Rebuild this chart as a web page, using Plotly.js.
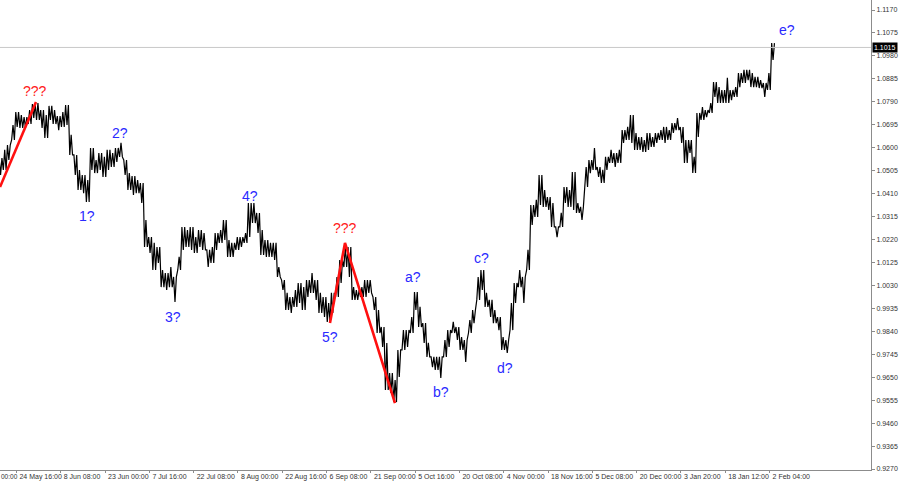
<!DOCTYPE html>
<html>
<head>
<meta charset="utf-8">
<script src="https://cdn.plot.ly/plotly-3.0.1.min.js"></script>
<style>html,body{margin:0;padding:0;background:#fff;}#chart{width:900px;height:485px;}</style>
</head>
<body>
<div id="chart"></div>
<script>
// Daily high / low (one value pair per trading day, 19 May 2022 .. 2 Feb 2023)
const dayHigh = [1.0557,1.0591,1.0611,1.0694,1.0748,1.0735,1.0727,1.0756,1.0781,1.0785,
1.0756,1.0735,1.0773,1.0756,1.0731,1.0748,1.0777,1.0653,1.0570,1.0508,
1.0487,1.0466,1.0599,1.0549,1.0578,1.0562,1.0591,1.0578,1.0599,1.0620,
1.0549,1.0495,1.0483,1.0466,1.0454,1.0301,1.0230,1.0206,1.0189,1.0094,
1.0081,1.0106,1.0065,1.0148,1.0272,1.0259,1.0272,1.0230,1.0259,1.0247,
1.0177,1.0189,1.0247,1.0259,1.0301,1.0218,1.0206,1.0230,1.0230,1.0247,
1.0371,1.0371,1.0330,1.0259,1.0218,1.0206,1.0206,1.0106,1.0052,0.9999,
0.9982,1.0011,1.0040,1.0023,1.0052,1.0081,1.0052,0.9999,0.9982,0.9957,
0.9999,1.0065,1.0135,1.0189,1.0189,1.0023,1.0011,1.0023,1.0052,1.0052,
0.9982,0.9928,0.9858,0.9792,0.9667,0.9638,0.9763,0.9845,0.9845,0.9899,
1.0003,0.9941,0.9874,0.9792,0.9734,0.9734,0.9734,0.9804,0.9845,0.9879,
0.9858,0.9816,0.9804,0.9887,0.9928,1.0065,1.0094,0.9999,0.9970,0.9928,
0.9899,0.9816,0.9804,0.9957,1.0040,1.0094,1.0065,1.0177,1.0363,1.0384,
1.0487,1.0425,1.0396,1.0371,1.0272,1.0330,1.0437,1.0425,1.0499,1.0371,
1.0355,1.0520,1.0549,1.0599,1.0520,1.0508,1.0562,1.0591,1.0578,1.0591,
1.0673,1.0686,1.0735,1.0661,1.0644,1.0632,1.0661,1.0644,1.0661,1.0673,
1.0686,1.0673,1.0702,1.0723,1.0686,1.0632,1.0632,1.0562,1.0744,1.0768,
1.0756,1.0785,1.0872,1.0851,1.0839,1.0889,1.0839,1.0851,1.0909,1.0922,
1.0922,1.0909,1.0893,1.0880,1.0868,1.0909,1.1033];

const dayLow = [1.0487,1.0508,1.0549,1.0632,1.0686,1.0682,1.0682,1.0698,1.0723,1.0715,
1.0682,1.0640,1.0715,1.0698,1.0673,1.0686,1.0694,1.0570,1.0487,1.0425,
1.0412,1.0375,1.0508,1.0495,1.0508,1.0479,1.0508,1.0520,1.0541,1.0562,
1.0487,1.0425,1.0404,1.0412,1.0371,1.0189,1.0164,1.0094,1.0123,1.0023,
1.0011,1.0023,0.9961,1.0094,1.0177,1.0189,1.0177,1.0164,1.0189,1.0177,
1.0106,1.0123,1.0177,1.0206,1.0218,1.0148,1.0148,1.0177,1.0189,1.0206,
1.0230,1.0288,1.0247,1.0156,1.0148,1.0148,1.0135,1.0065,1.0011,0.9928,
0.9916,0.9941,0.9957,0.9928,0.9982,0.9999,0.9970,0.9916,0.9899,0.9879,
0.9916,0.9982,1.0040,1.0106,1.0065,0.9970,0.9970,0.9982,0.9982,0.9999,
0.9928,0.9833,0.9775,0.9597,0.9585,0.9547,0.9651,0.9763,0.9775,0.9833,
0.9928,0.9858,0.9792,0.9734,0.9692,0.9680,0.9647,0.9734,0.9775,0.9833,
0.9804,0.9763,0.9713,0.9833,0.9874,0.9970,1.0011,0.9941,0.9899,0.9874,
0.9845,0.9763,0.9750,0.9845,0.9957,1.0023,0.9957,1.0094,1.0280,1.0313,
1.0363,1.0355,1.0342,1.0272,1.0230,1.0272,1.0371,1.0355,1.0342,1.0330,
1.0301,1.0437,1.0495,1.0508,1.0479,1.0454,1.0508,1.0537,1.0520,1.0537,
1.0620,1.0632,1.0620,1.0591,1.0591,1.0582,1.0591,1.0603,1.0620,1.0632,
1.0620,1.0632,1.0661,1.0673,1.0620,1.0537,1.0578,1.0495,1.0644,1.0715,
1.0727,1.0744,1.0810,1.0785,1.0785,1.0785,1.0797,1.0810,1.0851,1.0868,
1.0880,1.0851,1.0851,1.0847,1.0810,1.0839,1.0963];

// x axis: H4 bar index (bar 0 = 24 May 16:00), one label every 64 bars
const xTickBars = [0,64,128,192,256,320,384,448,512,576,640,704,768,832,896,960,1024,1088];
const xTickLabels = ["24 May 16:00","8 Jun 08:00","23 Jun 00:00","7 Jul 16:00","22 Jul 08:00","8 Aug 00:00","22 Aug 16:00","6 Sep 08:00","21 Sep 00:00","5 Oct 16:00","20 Oct 08:00","4 Nov 00:00","18 Nov 16:00","5 Dec 08:00","20 Dec 00:00","3 Jan 20:00","18 Jan 12:00","2 Feb 04:00"];
const cutLabel = "00:00";      // tail of the label that is cut off at the left edge
const firstDayBar = -23;       // bar index of the first trading day's centre
const barsPerDay = 6;

const yTicks = [1.1170,1.1075,1.0980,1.0885,1.0790,1.0695,1.0600,1.0505,1.0410,1.0315,1.0220,1.0125,1.0030,0.9935,0.9840,0.9745,0.9650,0.9555,0.9460,0.9365,0.9270];
const lastPrice = 1.1015;

// red wave lines
const redLine1X = [-23.8, 28.2];
const redLine1Y = [1.0437, 1.0789];
const redLine2X = [452.9, 474.6, 546.8];
const redLine2Y = [0.9874, 1.0206, 0.9543];

// wave labels
const waveText = ["???","1?","2?","3?","4?","???","5?","a?","b?","c?","d?","e?"];
const waveX    = [26.8, 101.9, 149.6, 226.1, 337.4, 474.6, 452.9, 572.8, 613.3, 671.1, 705.8, 1113.2];
const waveY    = [1.0835, 1.0317, 1.0661, 0.9899, 1.0400, 1.0268, 0.9816, 1.0065, 0.9588, 1.0143, 0.9688, 1.1087];
const waveColor= ["red","blue","blue","blue","blue","red","blue","blue","blue","blue","blue","blue"];

// build dense zig-zag high/low path (hi-lo-hi or lo-hi-lo inside each day)
const px = [], py = [];
for (let k = 0; k < dayHigh.length; k++) {
  const c = firstDayBar + barsPerDay * k;
  px.push(c - 2, c, c + 2);
  if (k % 2 === 0) py.push(dayHigh[k], dayLow[k], dayHigh[k]);
  else py.push(dayLow[k], dayHigh[k], dayLow[k]);
}

const traces = [
  {type:'scatter', mode:'lines', x:px, y:py, line:{color:'#000', width:1.2}, hoverinfo:'skip'},
  {type:'scatter', mode:'lines', x:redLine1X, y:redLine1Y, line:{color:'#ff1010', width:2.6}, hoverinfo:'skip'},
  {type:'scatter', mode:'lines', x:redLine2X, y:redLine2Y, line:{color:'#ff1010', width:2.6}, hoverinfo:'skip'}
];

const annotations = waveText.map((t,i)=>({
  x: waveX[i], y: waveY[i], xref:'x', yref:'y', text:t, showarrow:false,
  font:{family:'Liberation Sans, Arial, sans-serif', size:14, color: waveColor[i]==='red' ? '#ff2020' : '#2a2aff'}
}));
annotations.push({
  x:1, xref:'paper', y:lastPrice, yref:'y', xanchor:'left', yanchor:'middle', xshift:1,
  text:lastPrice.toFixed(4), showarrow:false, bgcolor:'#000', borderpad:1,
  font:{family:'Liberation Sans, Arial, sans-serif', size:7, color:'#fff'}
});
annotations.push({
  x:0, xref:'paper', y:0, yref:'paper', xanchor:'left', yanchor:'top', yshift:-2, xshift:0,
  text:cutLabel, showarrow:false, borderpad:0,
  font:{family:'Liberation Sans, Arial, sans-serif', size:6.5, color:'#333'}
});

const layout = {
  width:900, height:485,
  margin:{l:0, r:29, t:0, b:15, pad:0},
  paper_bgcolor:'#fff', plot_bgcolor:'#fff',
  showlegend:false,
  xaxis:{
    range:[-23.8, 1234.5], showgrid:false, zeroline:false,
    showline:true, linecolor:'#8c8c8c', linewidth:1, mirror:false,
    tickvals:xTickBars, ticktext:xTickLabels, tickangle:0,
    ticks:'outside', ticklen:2, tickcolor:'#8c8c8c',
    ticklabelposition:'outside right', ticklabelshift:2,
    tickfont:{family:'Liberation Sans, Arial, sans-serif', size:7, color:'#333'},
    fixedrange:true
  },
  yaxis:{
    range:[0.92659, 1.12114], side:'right', showgrid:false, zeroline:false,
    showline:true, linecolor:'#8c8c8c', linewidth:1,
    tickvals:yTicks, ticktext:yTicks.map(v=>v.toFixed(4)),
    ticks:'outside', ticklen:3, tickcolor:'#8c8c8c',
    tickfont:{family:'Liberation Sans, Arial, sans-serif', size:7, color:'#333'},
    fixedrange:true
  },
  shapes:[{type:'line', xref:'paper', x0:0, x1:1, yref:'y', y0:lastPrice, y1:lastPrice, line:{color:'#c8c8c8', width:1}}],
  annotations: annotations
};

Plotly.newPlot('chart', traces, layout, {staticPlot:true, displayModeBar:false});
</script>
</body>
</html>
